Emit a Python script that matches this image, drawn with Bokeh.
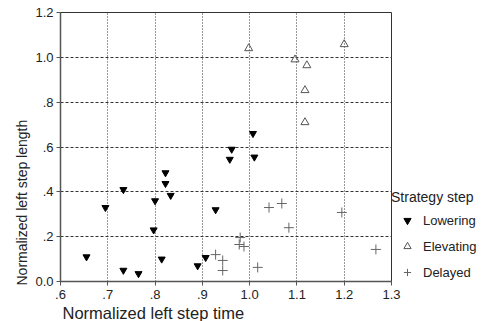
from bokeh.plotting import figure
from bokeh.models import Legend, LegendItem, FixedTicker, Title
from bokeh.embed import file_html
from bokeh.resources import INLINE

# Data
low_x = [0.655, 0.695, 0.733, 0.733, 0.765, 0.797, 0.800, 0.814, 0.822, 0.822, 0.833,
         0.890, 0.907, 0.928, 0.958, 0.962, 1.007, 1.010]
low_y = [0.110, 0.330, 0.410, 0.050, 0.035, 0.230, 0.360, 0.100, 0.485, 0.437, 0.384,
         0.070, 0.107, 0.320, 0.545, 0.590, 0.660, 0.555]

elev_x = [0.998, 1.096, 1.121, 1.117, 1.117, 1.200]
elev_y = [1.040, 0.990, 0.964, 0.853, 0.710, 1.058]

del_x = [1.041, 1.068, 1.083, 1.195, 1.267, 1.017, 0.980, 0.978, 0.988, 0.928, 0.943, 0.943]
del_y = [0.330, 0.348, 0.240, 0.308, 0.143, 0.063, 0.196, 0.165, 0.156, 0.120, 0.094, 0.049]

x_ticks = [0.6, 0.7, 0.8, 0.9, 1.0, 1.1, 1.2, 1.3]
x_labels = [".6", ".7", ".8", ".9", "1.0", "1.1", "1.2", "1.3"]
y_ticks = [0.0, 0.2, 0.4, 0.6, 0.8, 1.0, 1.2]
y_labels = ["0.0", ".2", ".4", ".6", ".8", "1.0", "1.2"]
x_grid = [0.7, 0.8, 0.9, 1.0, 1.1, 1.2]
y_grid = [0.2, 0.4, 0.6, 0.8, 1.0]
x_title = "Normalized left step time"
y_title = "Normalized left step length"

FONT = "Liberation Sans"
TXT = "#222222"

p = figure(frame_width=331, frame_height=269, x_range=(0.6, 1.3), y_range=(0.0, 1.2),
           output_backend="svg", toolbar_location=None,
           min_border_left=60, min_border_top=12, min_border_bottom=40, min_border_right=0)
p.background_fill_color = "white"
p.border_fill_color = "white"
p.outline_line_color = "#333333"
p.outline_line_width = 1

# axes
p.xaxis.ticker = FixedTicker(ticks=x_ticks)
p.yaxis.ticker = FixedTicker(ticks=y_ticks)
p.xaxis.major_label_overrides = dict(zip(x_ticks, x_labels))
p.yaxis.major_label_overrides = dict(zip(y_ticks, y_labels))
for ax in (p.xaxis, p.yaxis):
    ax.axis_line_color = "#555555"
    ax.axis_line_width = 1.5
    ax.major_tick_line_color = "#555555"
    ax.major_tick_in = 0
    ax.major_tick_out = 4
    ax.minor_tick_line_color = None
    ax.major_label_text_font = FONT
    ax.major_label_text_font_size = "13px"
    ax.major_label_text_color = TXT
p.xaxis.major_label_standoff = 4
p.yaxis.major_label_standoff = 3

# axis titles, aligned like the reference (not centred on the frame)
p.add_layout(Title(text=x_title, align="left", offset=2, standoff=0,
                   text_font=FONT, text_font_size="16.5px", text_font_style="normal",
                   text_color=TXT), "below")
p.add_layout(Title(text=y_title, align="left", offset=-4, standoff=6,
                   text_font=FONT, text_font_size="14px", text_font_style="normal",
                   text_color=TXT), "left")

# grid
p.xgrid.ticker = FixedTicker(ticks=x_grid)
p.ygrid.ticker = FixedTicker(ticks=y_grid)
p.xgrid.grid_line_color = "#333333"
p.xgrid.grid_line_dash = "1 2"
p.xgrid.grid_line_width = 1
p.ygrid.grid_line_color = "#333333"
p.ygrid.grid_line_dash = "3 2"
p.ygrid.grid_line_width = 1

r_low = p.scatter(low_x, low_y, marker="inverted_triangle", size=7,
                  fill_color="black", line_color="black")
r_elev = p.scatter(elev_x, elev_y, marker="triangle", size=8,
                   fill_color=None, line_color="#555555", line_width=1)
r_del = p.scatter(del_x, del_y, marker="cross", size=10,
                  line_color="#666666", line_width=1)

legend = Legend(items=[LegendItem(label="Lowering", renderers=[r_low]),
                       LegendItem(label="Elevating", renderers=[r_elev]),
                       LegendItem(label="Delayed", renderers=[r_del])],
                title="Strategy step", location="bottom_left")
legend.title_text_font = FONT
legend.title_text_font_size = "14px"
legend.title_text_font_style = "normal"
legend.title_text_color = TXT
legend.label_text_font = FONT
legend.label_text_font_size = "13px"
legend.label_text_color = TXT
legend.border_line_color = None
legend.background_fill_alpha = 0
legend.spacing = 8
legend.padding = 0
legend.margin = 0
legend.glyph_width = 32
legend.glyph_height = 18
legend.label_standoff = 0
legend.title_standoff = 6
p.add_layout(legend, "right")

open("out.html", "w").write(file_html(p, INLINE))
